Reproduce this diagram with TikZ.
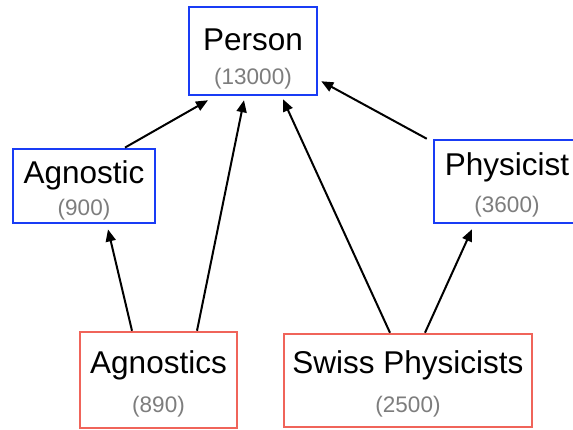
\documentclass[tikz,border=0pt]{standalone}
\usepackage{fontspec}
\setmainfont{Liberation Sans}
\usetikzlibrary{arrows.meta,positioning}
\definecolor{clsBlue}{RGB}{25,60,245}
\definecolor{clsRed}{RGB}{240,100,90}
\definecolor{cntGray}{RGB}{125,125,125}
\newcommand{\cnt}[1]{{\color{cntGray}\fontsize{22.5}{37}\selectfont #1}}
\newcommand{\ctitle}[2][30pt]{\rule{0pt}{#1}#2}
\newcommand{\lsep}[1]{\fontsize{31.5}{#1}\selectfont}
\tikzset{
  concept/.style={draw,line width=2.5pt,fill=white,align=center,
                  font=\lsep{37pt}},
  topCls/.style={concept,draw=clsBlue},
  subCls/.style={concept,draw=clsRed},
  flow/.style={-{Triangle[length=12pt,width=10pt]},line width=2pt},
}
\begin{document}
\begin{tikzpicture}[x=1pt,y=-1pt]
    \useasboundingbox (0,0) rectangle (573,430);
    % --- general classes ---
    \node[topCls,font=\lsep{34pt},minimum width=128pt,minimum height=88pt] (person) at (253,51)
        {\ctitle[37pt]{Person}\\\cnt{(13000)}};
    \node[topCls,font=\lsep{32pt},minimum width=142pt,minimum height=72pt] (agnostic) at (84,186)
        {\ctitle[31pt]{Agnostic}\\\cnt{(900)}};
    \node[topCls,minimum width=146pt,minimum height=83pt] (physicist) at (507,181.5)
        {\ctitle[29pt]{Physicist}\\\cnt{(3600)}};
    % --- derived classes ---
    \node[subCls,font=\lsep{39pt},minimum width=157pt,minimum height=96pt] (agnostics) at (158.5,380)
        {\ctitle{Agnostics}\\\cnt{(890)}};
    \node[subCls,font=\lsep{39pt},minimum width=248pt,minimum height=93pt] (swiss) at (408,380.5)
        {\ctitle[29pt]{Swiss Physicists}\\\cnt{(2500)}};
    % --- subclass links ---
    \draw[flow] ([xshift=41pt]agnostic.north) -- ([xshift=-45pt,yshift=-4pt]person.south);
    \draw[flow] ([xshift=-26.5pt]agnostics.north) -- ([xshift=24pt,yshift=-5pt]agnostic.south);
    \draw[flow] ([xshift=38.5pt]agnostics.north) -- ([xshift=-9pt,yshift=-4pt]person.south);
    \draw[flow] ([xshift=-18pt]swiss.north) -- ([xshift=30pt,yshift=-3pt]person.south);
    \draw[flow] ([xshift=17pt]swiss.north) -- ([xshift=-35pt,yshift=-5pt]physicist.south);
    \draw[flow] ([xshift=-6pt]physicist.north west) -- ([xshift=3pt,yshift=15pt]person.south east);
\end{tikzpicture}
\end{document}
